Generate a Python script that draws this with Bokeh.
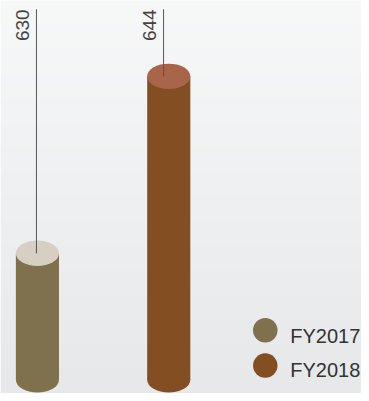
import numpy as np
from math import pi
from bokeh.plotting import figure
from bokeh.models import Range1d
from bokeh.core.properties import value
from bokeh.embed import file_html
from bokeh.resources import INLINE

# ---- data ----
categories = ["FY2017", "FY2018"]
values = [630, 644]
body_colors = ["#80714E", "#834F22"]
top_colors = ["#D6CFC2", "#A8654A"]
axis_min = 620

# ---- layout (reference-pixel constants, scaled to fit the figure) ----
W, H = 361, 393
S = 0.98                              # reference px -> figure px
CREF_X, CREF_Y = 184.5, 200.5         # reference centre
CFIG_X, CFIG_Y = 180.5, 196.5         # figure centre
PX_PER_UNIT = 12.9      # reference pixels per value unit
BASE_Y = 387            # reference y of axis_min
X0 = 38                 # reference x of first category centre
DX = 134                # reference px between categories
CYL_W = 44
ELL_H = 26


def px_x(ref_x):
    return (ref_x - X0) / DX


def px_y(ref_y):
    return axis_min + (BASE_Y - ref_y) / PX_PER_UNIT


ref_left = CREF_X + (0 - CFIG_X) / S
ref_right = CREF_X + (W - CFIG_X) / S
ref_top = CREF_Y + (0 - CFIG_Y) / S
ref_bottom = CREF_Y + (H - CFIG_Y) / S

x_start, x_end = px_x(ref_left), px_x(ref_right)
y_start, y_end = px_y(ref_bottom), px_y(ref_top)

p = figure(width=W, height=H, x_range=Range1d(x_start, x_end),
           y_range=Range1d(y_start, y_end), x_axis_type=None, y_axis_type=None,
           output_backend="svg", toolbar_location=None, min_border=0,
           outline_line_color=None, border_fill_color="#EEEFF0")
p.grid.visible = False

# background gradient
N = 64
img = np.empty((N, 1), dtype=np.uint32)
view = img.view(dtype=np.uint8).reshape((N, 1, 4))
top_c = np.array([247, 248, 248])
bot_c = np.array([231, 232, 234])
for i in range(N):
    t = i / (N - 1)  # 0 bottom -> 1 top
    c = bot_c + (top_c - bot_c) * t
    view[i, 0, 0:3] = c.astype(np.uint8)
    view[i, 0, 3] = 255
p.image_rgba(image=[img], x=x_start, y=y_start, dw=x_end - x_start, dh=y_end - y_start)

xs = list(range(len(categories)))

# cylinders
p.ellipse(x=xs, y=[axis_min] * len(xs), width=CYL_W * S, height=ELL_H * S,
          width_units="screen", height_units="screen",
          fill_color=body_colors, line_color=None)
p.vbar(x=xs, bottom=axis_min, top=values, width=CYL_W / DX,
       fill_color=body_colors, line_color=None)
p.ellipse(x=xs, y=values, width=CYL_W * S, height=ELL_H * S,
          width_units="screen", height_units="screen",
          fill_color=top_colors, line_color=None)

# leader lines and value labels
LINE_X0, LINE_DX = 37, 129.7
lx = [px_x(LINE_X0 + LINE_DX * i) for i in xs]
line_top = px_y(9)
p.segment(x0=lx, y0=values, x1=lx, y1=[line_top] * len(xs),
          line_color="#555555", line_width=1)
p.text(x=lx, y=[line_top] * len(xs), text=[str(v) for v in values],
       angle=pi / 2, x_offset=-14 * S, text_align="right",
       text_baseline="alphabetic", text_font=value("Liberation Sans"),
       text_font_size="19px", text_color="#444444")

# legend
LEG_X = 270.5
leg_y = [px_y(336.5 + 36 * i) for i in xs]
p.scatter(x=[px_x(LEG_X)] * len(xs), y=leg_y, size=25 * S, marker="circle",
          fill_color=body_colors, line_color=None)
p.text(x=[px_x(296)] * len(xs), y=[px_y(342 + 35 * i) for i in xs], text=categories,
       text_align="left", text_baseline="alphabetic",
       text_font=value("Liberation Sans"), text_font_size="20px",
       text_color="#333333")

open("out.html", "w").write(file_html(p, INLINE))
